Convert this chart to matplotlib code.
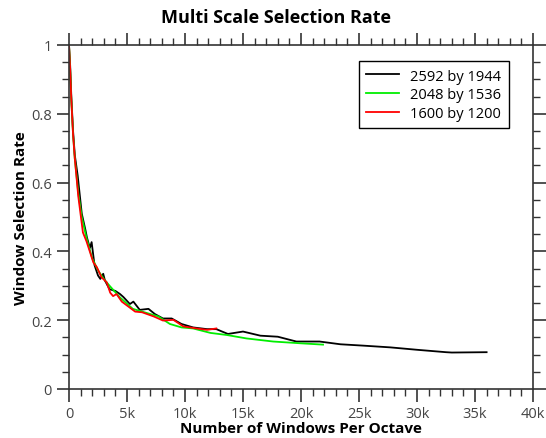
import numpy as np
import matplotlib
matplotlib.use('Agg')
import matplotlib.pyplot as plt
from matplotlib.ticker import MultipleLocator, FuncFormatter

plt.rcParams['font.family'] = ['Open Sans', 'DejaVu Sans']

# x in thousands of windows per octave
x_2592 = [0, 0.1, 0.2, 0.35, 0.5, 0.75, 1.1, 1.4, 1.55, 1.8, 1.95, 2.2, 2.5, 2.7, 2.95, 3.1,
          3.5, 4.0, 4.4, 4.7, 5.25, 5.55, 6.1, 6.85, 7.4, 8.1, 8.85, 9.7, 10.7, 11.9, 12.7,
          13.7, 15.0, 16.5, 18.0, 19.6, 21.6, 23.4, 25.4, 27.7, 30.0, 32.5, 33.0, 36.0]
y_2592 = [1.0, 0.94, 0.85, 0.75, 0.68, 0.62, 0.51, 0.465, 0.44, 0.41, 0.427, 0.36, 0.33, 0.32,
          0.335, 0.315, 0.29, 0.285, 0.276, 0.267, 0.247, 0.254, 0.23, 0.233, 0.218, 0.205,
          0.205, 0.189, 0.179, 0.174, 0.174, 0.16, 0.167, 0.155, 0.152, 0.138, 0.138, 0.13,
          0.126, 0.121, 0.114, 0.107, 0.106, 0.107]

x_2048 = [0, 0.1, 0.2, 0.35, 0.5, 0.8, 1.1, 1.5, 2.0, 2.5, 3.0, 3.5, 4.4, 5.5, 6.7, 7.7, 8.7,
          9.7, 10.7, 12.2, 13.6, 15.3, 17.6, 19.9, 21.9]
y_2048 = [1.0, 0.93, 0.84, 0.74, 0.67, 0.57, 0.5, 0.44, 0.38, 0.345, 0.32, 0.30, 0.266, 0.233,
          0.221, 0.211, 0.189, 0.179, 0.176, 0.163, 0.157, 0.147, 0.138, 0.133, 0.129]

x_1600 = [0, 0.1, 0.2, 0.35, 0.5, 0.8, 1.2, 1.5, 2.1, 2.4, 2.8, 3.25, 3.55, 3.8, 4.1, 4.55,
          5.7, 6.3, 7.3, 8.1, 9.0, 9.85, 11.0, 11.9, 12.7]
y_1600 = [1.0, 0.93, 0.84, 0.74, 0.67, 0.56, 0.455, 0.43, 0.368, 0.354, 0.325, 0.31, 0.28,
          0.27, 0.276, 0.254, 0.225, 0.223, 0.211, 0.199, 0.201, 0.182, 0.176, 0.172, 0.176]

fig = plt.figure(figsize=(5.46, 4.39), dpi=100)
ax = fig.add_axes([69/546, 49/439, 464/546, 344/439])

ax.plot(np.array(x_2592) * 1000, y_2592, color='black', lw=1.3, label='2592 by 1944')
ax.plot(np.array(x_2048) * 1000, y_2048, color='#00ee00', lw=1.3, label='2048 by 1536')
ax.plot(np.array(x_1600) * 1000, y_1600, color='red', lw=1.3, label='1600 by 1200')

ax.set_xlim(0, 40000)
ax.set_ylim(0, 1)
ax.xaxis.set_major_locator(MultipleLocator(5000))
ax.xaxis.set_minor_locator(MultipleLocator(1000))
ax.yaxis.set_major_locator(MultipleLocator(0.2))
ax.yaxis.set_minor_locator(MultipleLocator(0.05))
ax.xaxis.set_major_formatter(FuncFormatter(lambda v, p: '0' if v == 0 else '%dk' % (v / 1000)))
ax.yaxis.set_major_formatter(FuncFormatter(lambda v, p: '%g' % round(v, 2)))

for s in ax.spines.values():
    s.set_color('#333333')
    s.set_linewidth(1.2)
ax.tick_params(which='both', direction='out', top=True, right=True, color='#333333',
               labelcolor='#444444', labelsize=10.5)
ax.tick_params(which='major', length=9, width=1.2)
ax.tick_params(which='minor', length=5, width=1.0)

fig.suptitle('Multi Scale Selection Rate', x=276/546, y=1 - 18/439, va='center',
             fontsize=13, fontweight='bold')
ax.set_xlabel('Number of Windows Per Octave', fontsize=11, fontweight='bold', labelpad=0)
ax.set_ylabel('Window Selection Rate', fontsize=11, fontweight='bold', labelpad=2)

leg = ax.legend(loc='upper right', fontsize=10.5, fancybox=False, framealpha=1,
                edgecolor='black', handlelength=2.2, borderpad=0.5, labelspacing=0.25,
                bbox_to_anchor=(0.963, 0.974))
leg.get_frame().set_linewidth(1.0)

fig.savefig('out.png', dpi=100)
